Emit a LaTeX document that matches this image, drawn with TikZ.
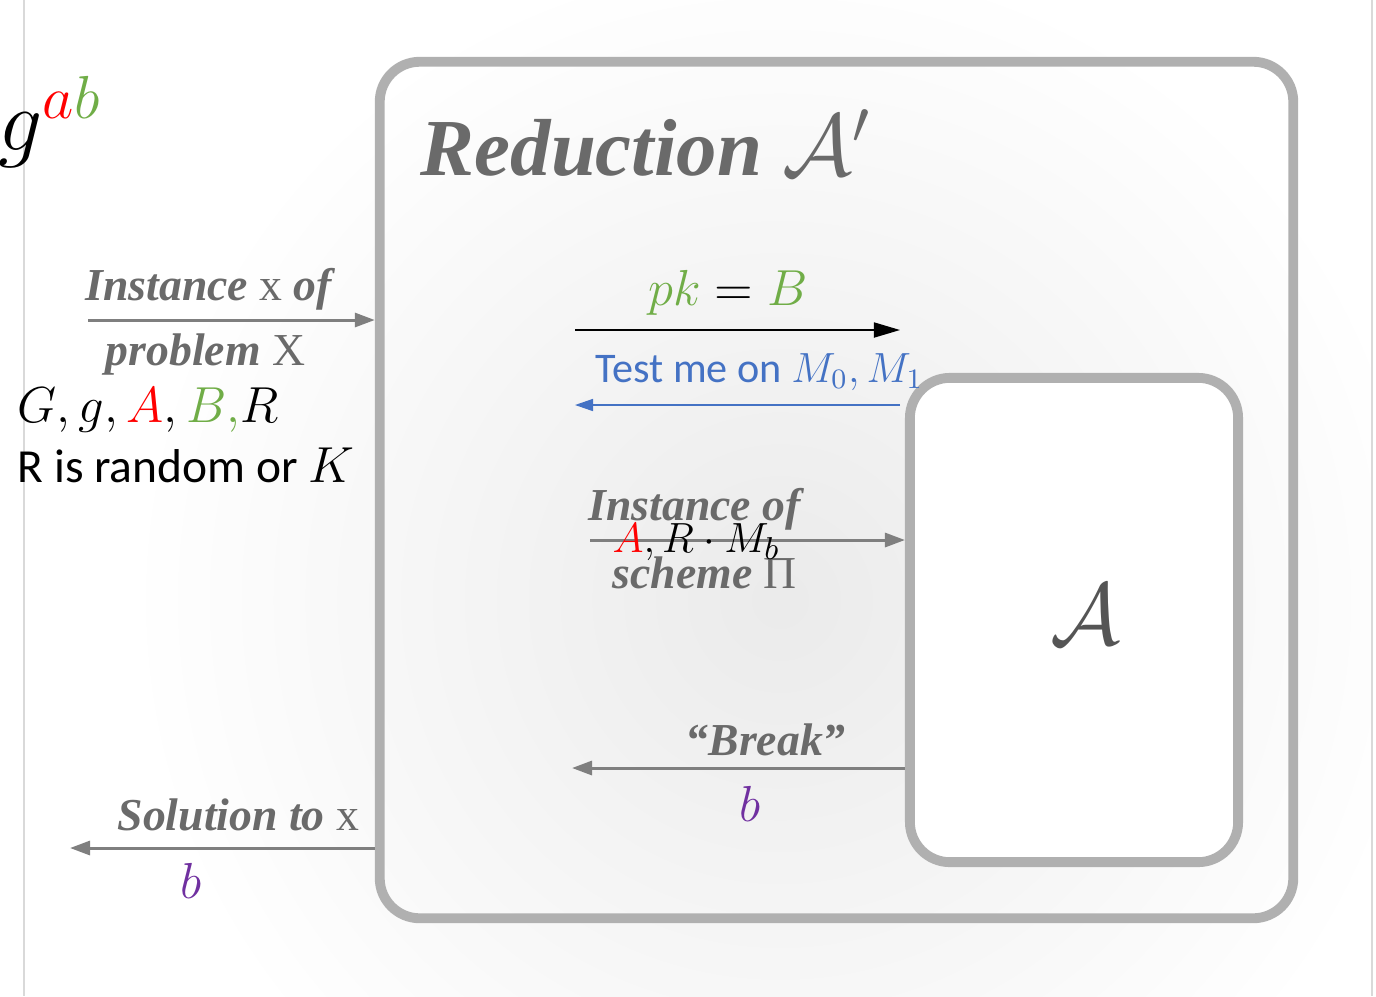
\documentclass[tikz,border=0pt]{standalone}
\usepackage{fontspec}
\setmainfont{Liberation Serif}
\newfontfamily\slidefont{Carlito}
\usetikzlibrary{arrows.meta}
\definecolor{redA}{HTML}{FF0000}
\definecolor{greenB}{HTML}{70AD47}
\definecolor{blueT}{HTML}{4472C4}
\definecolor{purpleb}{HTML}{7030A0}
\definecolor{boxgray}{HTML}{B0B0B0}
\definecolor{labgray}{HTML}{6A6A6A}
\definecolor{arrgray}{HTML}{7F7F7F}
\definecolor{edgegray}{HTML}{D9D9D9}
\begin{document}
\begin{tikzpicture}[x=0.01cm,y=-0.01cm,
    box/.style={draw=boxgray,line width=2.8pt,rounded corners=0.4cm,inner sep=0},
    lab/.style={inner sep=0,text=labgray,font=\fontsize{13}{15}\selectfont\bfseries\itshape},
    maths/.style={inner sep=0,font=\fontsize{14}{16}\selectfont},
    probarrow/.style={draw=arrgray,line width=0.85pt,-{Triangle[length=0.2cm,width=0.14cm]}}]
		\useasboundingbox (0,0) rectangle (1376,996);
		\begin{scope}
			\clip (25,0) rectangle (1371,996);
			\shade[inner color=black!8,outer color=white] (780,600) circle (6.5cm);
		\end{scope}
		\draw[edgegray,line width=0.4pt] (24,0) -- (24,996);
		\draw[edgegray,line width=0.4pt] (1372,0) -- (1372,996);
		% the reduction and the adversary inside it
		\node[box,minimum width=9.13cm,minimum height=8.56cm] (reduction) at (836.5,490) {};
		\node[lab,anchor=base west,font=\fontsize{23}{27}\selectfont\bfseries\itshape] (redtitle) at (420,175) {Reduction $\mathcal{A}'$};
		\node[box,fill=white,minimum width=3.28cm,minimum height=4.84cm] (adv) at (1074,620) {};
		\node[inner sep=0,text=labgray!80!black,font=\fontsize{42}{48}\selectfont] (advname) at (1085,615) {$\mathcal{A}$};
		% outside the reduction
		\node[maths,anchor=base west,font=\fontsize{24}{28}\selectfont] (gab) at (-2,150) {$g^{\textcolor{redA}{a}\textcolor{greenB}{b}}$};
		\coordinate (instS) at (88,320);
		\draw[probarrow] (instS) -- (instS -| reduction.west);
		\node[lab,anchor=base west] (inst) at (85,300) {Instance \textup{\mdseries x} of};
		\node[lab,anchor=base west] (prob) at (105,365) {problem \textup{\mdseries X}};
		\node[maths,anchor=base west,font=\fontsize{13.5}{16}\selectfont] (params) at (17,422) {$G, g, \textcolor{redA}{A}, \textcolor{greenB}{B,} R$};
		\node[inner sep=0,anchor=base west,font=\slidefont\fontsize{13.5}{16}\selectfont] (rk) at (17,482) {R is random or $K$};
		\coordinate (solE) at (70,848);
		\draw[probarrow] (solE -| reduction.west) -- (solE);
		\node[lab,anchor=base west] (sol) at (117,830) {Solution to \textup{\mdseries x}};
		\node[maths,anchor=base,text=purpleb] (bout) at (191,898) {$b$};
		% between the reduction and the adversary
		\coordinate (pkS) at (575,330);
		\coordinate (pkE) at (900,330);
		\draw[black,line width=0.5pt,-{Triangle[length=0.26cm,width=0.15cm]}] (pkS) -- (pkE);
		\node[maths,anchor=base,font=\fontsize{15}{17}\selectfont] (pk) at (728,305) {$\textcolor{greenB}{pk} = \textcolor{greenB}{B}$};
		\coordinate (testS) at (900,405);
		\coordinate (testE) at (575,405);
		\draw[blueT,line width=0.45pt,-{Triangle[length=0.18cm,width=0.12cm]}] (testS) -- (testE);
		\node[inner sep=0,anchor=base west,text=blueT,font=\slidefont\fontsize{12}{14}\selectfont] (test) at (595,382) {Test me on $M_0, M_1$};
		\coordinate (chS) at (590,540);
		\draw[probarrow] (chS) -- (chS -| adv.west);
		\node[lab,anchor=base west] (instsch) at (588,520) {Instance of};
		\node[lab,anchor=base west] (scheme) at (612,588) {scheme \textup{\mdseries Π}};
		\node[maths,anchor=base west,font=\fontsize{13}{15}\selectfont] (chal) at (612,552) {$\textcolor{redA}{A}, R\cdot M_b$};
		\coordinate (brkE) at (572,768);
		\draw[probarrow] (brkE -| adv.west) -- (brkE);
		\node[lab,anchor=base west] (brk) at (685,755) {“Break”};
		\node[maths,anchor=base,text=purpleb] (bbrk) at (750,821) {$b$};
	\end{tikzpicture}
\end{document}
